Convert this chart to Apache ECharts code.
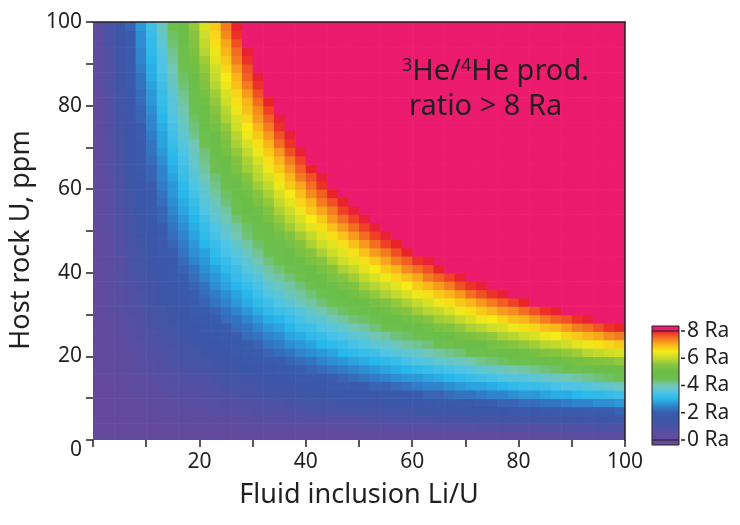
<!DOCTYPE html>
<html>
<head>
<meta charset="utf-8">
<script src="https://cdn.jsdelivr.net/npm/echarts@6/dist/echarts.min.js"></script>
<style>
  html, body { margin: 0; background: #fff; }
  #chart { width: 740px; height: 525px; }
</style>
</head>
<body>
<div id="chart"></div>
<script>
var chart = echarts.init(document.getElementById('chart'));

// cell centres (2-unit cells)
var cellLiU = [1,3,5,7,9,11,13,15,17,19,21,23,25,27,29,31,33,35,37,39,41,43,45,47,49,
               51,53,55,57,59,61,63,65,67,69,71,73,75,77,79,81,83,85,87,89,91,93,95,97,99];
var cellHostU = [1,3,5,7,9,11,13,15,17,19,21,23,25,27,29,31,33,35,37,39,41,43,45,47,49,
                 51,53,55,57,59,61,63,65,67,69,71,73,75,77,79,81,83,85,87,89,91,93,95,97,99];

// 3He/4He production ratio in tenths of Ra, one row per host rock U cell (bottom row first).
// a row stops where the pink "> 8 Ra" field begins
var raTenths = [
  [0,0,0,0,0,0,0,0,1,1,1,1,1,1,1,1,1,1,1,1,1,1,1,1,1,2,2,2,2,2,2,2,2,2,2,2,2,2,2,2,2,2,3,3,3,3,3,3,3,3],
  [0,0,0,1,1,1,1,1,2,2,2,2,2,2,3,3,3,3,3,4,4,4,4,4,4,5,5,5,5,5,5,6,6,6,6,6,7,7,7,7,7,7,8,8,8,8,8,9,9,9],
  [0,0,1,1,1,2,2,2,3,3,3,3,4,4,4,5,5,5,6,6,6,6,7,7,7,8,8,8,9,9,9,9,10,10,10,11,11,11,12,12,12,12,13,13,13,14,14,14,15,15],
  [0,1,1,1,2,2,3,3,4,4,4,5,5,6,6,7,7,7,8,8,9,9,9,10,10,11,11,12,12,12,13,13,14,14,14,15,15,16,16,17,17,17,18,18,19,19,20,20,20,21],
  [0,1,1,2,2,3,4,4,5,5,6,6,7,7,8,8,9,9,10,11,11,12,12,13,13,14,14,15,15,16,16,17,18,18,19,19,20,20,21,21,22,22,23,23,24,25,25,26,26,27],
  [0,1,2,2,3,4,4,5,6,6,7,8,8,9,10,10,11,12,12,13,14,14,15,16,16,17,17,18,19,19,20,21,21,22,23,23,24,25,25,26,27,27,28,29,29,30,31,31,32,33],
  [0,1,2,3,4,4,5,6,7,7,8,9,10,11,11,12,13,14,14,15,16,17,18,18,19,20,21,21,22,23,24,25,25,26,27,28,28,29,30,31,32,32,33,34,35,35,36,37,38,39],
  [0,1,2,3,4,5,6,7,8,9,9,10,11,12,13,14,15,16,17,18,18,19,20,21,22,23,24,25,26,27,27,28,29,30,31,32,33,34,35,36,36,37,38,39,40,41,42,43,44,45],
  [1,2,3,4,5,6,7,8,9,10,11,12,13,14,15,16,17,18,19,20,21,22,23,24,25,26,27,28,29,30,31,32,33,34,35,36,37,38,39,40,41,42,43,44,45,46,47,48,49,50],
  [1,2,3,4,5,6,7,9,10,11,12,13,14,15,17,18,19,20,21,22,23,25,26,27,28,29,30,31,32,34,35,36,37,38,39,40,42,43,44,45,46,47,48,50,51,52,53,54,55,56],
  [1,2,3,4,6,7,8,9,11,12,13,14,16,17,18,20,21,22,23,25,26,27,28,30,31,32,33,35,36,37,38,40,41,42,43,45,46,47,49,50,51,52,54,55,56,57,59,60,61,62],
  [1,2,3,5,6,8,9,10,12,13,14,16,17,19,20,21,23,24,26,27,28,30,31,32,34,35,37,38,39,41,42,43,45,46,48,49,50,52,53,55,56,57,59,60,61,63,64,66,67,68],
  [1,2,4,5,7,8,10,11,13,14,16,17,19,20,22,23,25,26,28,29,31,32,34,35,37,38,40,41,43,44,46,47,49,50,52,53,55,56,58,59,61,62,64,65,67,68,70,71,73,74],
  [1,2,4,6,7,9,11,12,14,15,17,19,20,22,23,25,27,28,30,32,33,35,36,38,40,41,43,45,46,48,49,51,53,54,56,58,59,61,62,64,66,67,69,70,72,74,75,77,79,80],
  [1,3,4,6,8,10,11,13,15,17,18,20,22,23,25,27,29,30,32,34,36,37,39,41,43,44,46,48,50,51,53,55,57,58,60,62,64,65,67,69,70,72,74,76,77,79,81],
  [1,3,5,7,8,10,12,14,16,18,20,21,23,25,27,29,31,33,34,36,38,40,42,44,46,47,49,51,53,55,57,59,60,62,64,66,68,70,72,73,75,77,79,81],
  [1,3,5,7,9,11,13,15,17,19,21,23,25,27,29,31,33,35,37,39,41,43,45,47,49,50,52,54,56,58,60,62,64,66,68,70,72,74,76,78,80],
  [1,3,5,7,9,12,14,16,18,20,22,24,26,28,30,33,35,37,39,41,43,45,47,49,51,54,56,58,60,62,64,66,68,70,72,75,77,79,81],
  [1,3,6,8,10,12,14,17,19,21,23,26,28,30,32,34,37,39,41,43,46,48,50,52,54,57,59,61,63,65,68,70,72,74,77,79,81],
  [1,4,6,8,11,13,15,18,20,22,25,27,29,32,34,36,39,41,43,46,48,50,53,55,57,60,62,64,67,69,71,74,76,78,81],
  [1,4,6,9,11,14,16,18,21,23,26,28,31,33,36,38,41,43,46,48,50,53,55,58,60,63,65,68,70,73,75,77,80],
  [1,4,6,9,12,14,17,19,22,25,27,30,32,35,37,40,43,45,48,50,53,55,58,61,63,66,68,71,74,76,79,81],
  [1,4,7,9,12,15,18,20,23,26,28,31,34,36,39,42,45,47,50,53,55,58,61,63,66,69,72,74,77,80],
  [1,4,7,10,13,16,18,21,24,27,30,32,35,38,41,44,47,49,52,55,58,61,63,66,69,72,75,78,80],
  [1,4,7,10,13,16,19,22,25,28,31,34,37,40,43,46,49,51,54,57,60,63,66,69,72,75,78,81],
  [2,5,8,11,14,17,20,23,26,29,32,35,38,41,44,47,50,54,57,60,63,66,69,72,75,78,81],
  [2,5,8,11,14,17,21,24,27,30,33,37,40,43,46,49,52,56,59,62,65,68,72,75,78,81],
  [2,5,8,12,15,18,21,25,28,31,35,38,41,45,48,51,54,58,61,64,68,71,74,78,81],
  [2,5,9,12,15,19,22,26,29,32,36,39,43,46,50,53,56,60,63,67,70,74,77,80],
  [2,5,9,12,16,19,23,27,30,34,37,41,44,48,51,55,58,62,65,69,73,76,80],
  [2,5,9,13,16,20,24,27,31,35,38,42,46,49,53,57,60,64,68,71,75,79],
  [2,6,9,13,17,21,25,28,32,36,40,43,47,51,55,59,62,66,70,74,77,81],
  [2,6,10,14,18,21,25,29,33,37,41,45,49,53,57,60,64,68,72,76,80],
  [2,6,10,14,18,22,26,30,34,38,42,46,50,54,58,62,66,70,74,78],
  [2,6,10,14,19,23,27,31,35,39,43,48,52,56,60,64,68,72,77,81],
  [2,6,11,15,19,23,28,32,36,40,45,49,53,58,62,66,70,75,79],
  [2,7,11,15,20,24,28,33,37,42,46,50,55,59,64,68,72,77,81],
  [2,7,11,16,20,25,29,34,38,43,47,52,56,61,65,70,74,79],
  [2,7,12,16,21,25,30,35,39,44,49,53,58,62,67,72,76,81],
  [2,7,12,17,21,26,31,36,40,45,50,55,59,64,69,73,78],
  [2,7,12,17,22,27,32,36,41,46,51,56,61,66,70,75,80],
  [2,7,12,17,22,27,32,37,42,47,52,57,62,67,72,77],
  [3,8,13,18,23,28,33,38,43,48,54,59,64,69,74,79],
  [3,8,13,18,23,29,34,39,44,50,55,60,65,70,76,81],
  [3,8,13,19,24,29,35,40,45,51,56,61,67,72,77],
  [3,8,14,19,25,30,35,41,46,52,57,63,68,74,79],
  [3,8,14,20,25,31,36,42,47,53,59,64,70,75,81],
  [3,9,14,20,26,31,37,43,48,54,60,66,71,77],
  [3,9,15,20,26,32,38,44,49,55,61,67,73,79],
  [3,9,15,21,27,33,39,45,50,56,62,68,74,80]
];
var overRange = 90;   // pink field, ratio > 8 Ra
var cellHalf = 1;     // half width of a cell, axis units

// colour ramp, one colour per 0.5 Ra from 0 to 8.5 Ra
var rampColors = ['#65499c','#5a4ea2','#4953a6','#3c56a8','#3a5cad','#2f84cc','#28b7ea','#4fc5e6','#72c7b4',
                  '#6dbf50','#6bbe47','#86c440','#c3da2d','#f7ea16','#f9b51a','#f36e22','#ea2328','#ec1b6d'];
var barTicks = [0, 2, 4, 6, 8];

var textColor = '#231f20';
var fontName = '"Noto Sans", sans-serif';

var cellData = [];
raTenths.forEach(function (row, j) {
    for (var i = 0; i < cellLiU.length; i++) {
        cellData.push([cellLiU[i], cellHostU[j], i < row.length ? row[i] : overRange]);
    }
});

// colour bar (0 to 8 Ra)
var barLeft = 652, barWidth = 27, barTop = 331, barBottom = 440;
var stops = [];
for (var k = 16; k >= 0; k--) {
    stops.push({ offset: (16 - k) / 16, color: rampColors[k] });
}
var barGraphics = [
    { type: 'rect', shape: { x: barLeft, y: barTop - 5, width: barWidth, height: 5 }, style: { fill: rampColors[17] } },
    { type: 'rect', shape: { x: barLeft, y: barTop, width: barWidth, height: barBottom - barTop },
      style: { fill: new echarts.graphic.LinearGradient(0, 0, 0, 1, stops) } },
    { type: 'rect', shape: { x: barLeft, y: barBottom, width: barWidth, height: 5 }, style: { fill: rampColors[0] } },
    { type: 'rect', shape: { x: barLeft, y: barTop - 5, width: barWidth, height: barBottom - barTop + 10 },
      style: { fill: 'none', stroke: textColor, lineWidth: 1 } },
    { type: 'line', shape: { x1: barLeft, y1: barTop, x2: barLeft + barWidth, y2: barTop }, style: { stroke: textColor, lineWidth: 1 } },
    { type: 'line', shape: { x1: barLeft, y1: barBottom, x2: barLeft + barWidth, y2: barBottom }, style: { stroke: textColor, lineWidth: 1 } }
];
barTicks.forEach(function (ra) {
    var y = barBottom - ra / 8 * (barBottom - barTop);
    barGraphics.push({ type: 'line', shape: { x1: barLeft + barWidth + 2, y1: y, x2: barLeft + barWidth + 6, y2: y },
        style: { stroke: textColor, lineWidth: 1.5 } });
    barGraphics.push({ type: 'text', x: barLeft + barWidth + 8, y: y,
        style: { text: ra + ' Ra', fill: textColor, font: '21px ' + fontName, verticalAlign: 'middle' } });
});

var borderAxis = {
    type: 'value', min: 0, max: 100, z: 5,
    axisLine: { show: true, onZero: false, lineStyle: { color: textColor, width: 1.5 } },
    axisTick: { show: false }, axisLabel: { show: false }, splitLine: { show: false }
};

var option = {
    animation: false,
    backgroundColor: '#fff',
    textStyle: { fontFamily: fontName },
    grid: { left: 93, right: 115, top: 22, bottom: 85 },
    visualMap: {
        type: 'continuous',
        show: false,
        min: 0,
        max: 85,
        dimension: 2,
        seriesIndex: 0,
        inRange: { color: rampColors }
    },
    xAxis: [
        {
            type: 'value', min: 0, max: 100, interval: 10, position: 'bottom',
            name: 'Fluid inclusion Li/U', nameLocation: 'middle', nameGap: 42,
            nameTextStyle: { fontSize: 27, color: textColor },
            axisLine: { show: false, onZero: false },
            axisTick: { show: true, length: 7, lineStyle: { color: textColor, width: 1.5 } },
            axisLabel: {
                margin: 12, fontSize: 21, color: textColor,
                formatter: function (v) { return v > 0 && v % 20 === 0 ? String(v) : ''; }
            },
            splitLine: { show: false }
        },
        Object.assign({ position: 'top' }, borderAxis)
    ],
    yAxis: [
        {
            type: 'value', min: 0, max: 100, interval: 10, position: 'left',
            name: 'Host rock U, ppm', nameLocation: 'middle', nameGap: 48,
            nameTextStyle: { fontSize: 27, color: textColor, padding: [0, 18, 0, 0] },
            axisLine: { show: false, onZero: false },
            axisTick: { show: true, length: 7, lineStyle: { color: textColor, width: 1.5 } },
            axisLabel: {
                margin: 11, fontSize: 21, color: textColor,
                formatter: function (v) {
                    if (v === 0) return '{z|0}';
                    return v % 20 === 0 ? String(v) : '';
                },
                rich: { z: { fontSize: 21, color: textColor, padding: [20, 0, 0, 0] } }
            },
            splitLine: { show: false }
        },
        Object.assign({ position: 'right' }, borderAxis)
    ],
    graphic: [
        { type: 'text', x: 402, y: 72, z: 100,
          style: { text: '{s|3}He/{s|4}He prod.', fill: textColor, font: '29px ' + fontName, verticalAlign: 'middle',
                   rich: { s: { fontSize: 18, fontFamily: fontName, fill: textColor, verticalAlign: 'top', padding: [0, 0, 13, 0] } } } },
        { type: 'text', x: 409, y: 107, z: 100,
          style: { text: 'ratio > 8 Ra', fill: textColor, font: '29px ' + fontName, verticalAlign: 'middle' } }
    ].concat(barGraphics),
    series: [{
        type: 'custom',
        xAxisIndex: 0,
        yAxisIndex: 0,
        clip: true,
        data: cellData,
        progressive: 0,
        renderItem: function (params, api) {
            var x = api.value(0), y = api.value(1);
            var p0 = api.coord([x - cellHalf, y + cellHalf]);
            var p1 = api.coord([x + cellHalf, y - cellHalf]);
            return {
                type: 'rect',
                shape: { x: p0[0], y: p0[1], width: p1[0] - p0[0] + 0.6, height: p1[1] - p0[1] + 0.6 },
                style: { fill: api.visual('color') }
            };
        }
    }]
};

chart.setOption(option);
</script>
</body>
</html>
